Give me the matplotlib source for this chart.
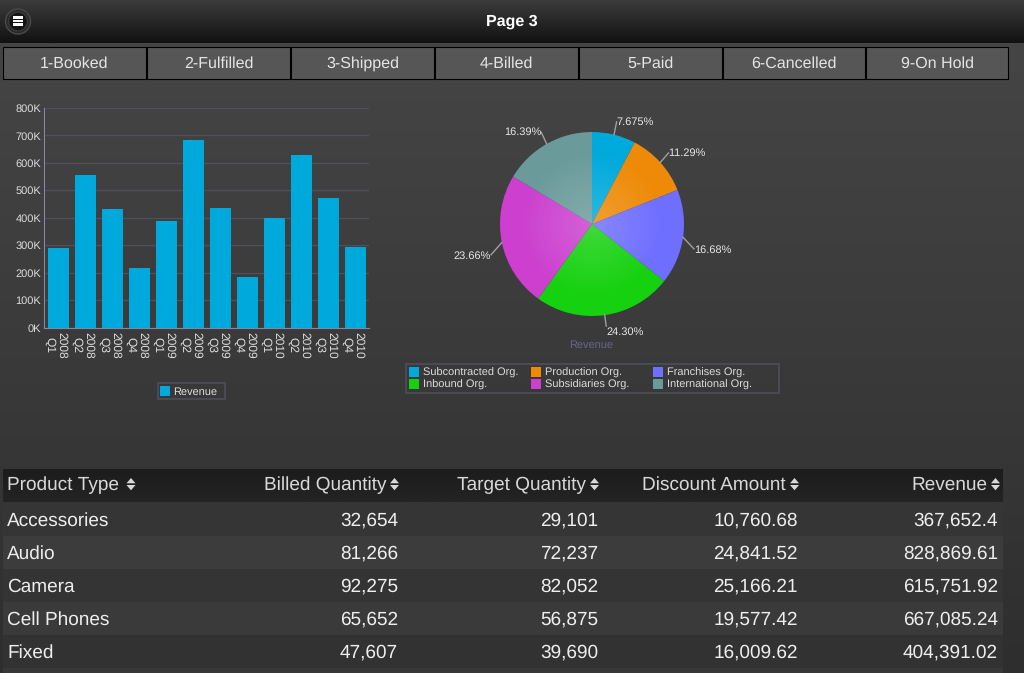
import numpy as np
import matplotlib
matplotlib.use('Agg')
import matplotlib.pyplot as plt
from matplotlib.colors import LinearSegmentedColormap
from matplotlib.patches import Rectangle, Circle, Polygon
from matplotlib.transforms import ScaledTranslation

plt.rcParams['font.family'] = ['Liberation Sans', 'DejaVu Sans']
plt.rcParams['text.hinting'] = 'no_hinting'
plt.rcParams['text.hinting_factor'] = 1

W, H = 1024, 673

# datos
tabs = ['1-Booked', '2-Fulfilled', '3-Shipped', '4-Billed', '5-Paid', '6-Cancelled', '9-On Hold']
quarters = ['2008\nQ1', '2008\nQ2', '2008\nQ3', '2008\nQ4',
            '2009\nQ1', '2009\nQ2', '2009\nQ3', '2009\nQ4',
            '2010\nQ1', '2010\nQ2', '2010\nQ3', '2010\nQ4']
revenue = [290, 555, 432, 217, 388, 683, 435, 184, 400, 628, 472, 293]
y_ticks = [0, 100, 200, 300, 400, 500, 600, 700, 800]

org_names = ['Subcontracted Org.', 'Production Org.', 'Franchises Org.',
             'Inbound Org.', 'Subsidiaries Org.', 'International Org.']
org_share = [7.675, 11.29, 16.68, 24.30, 23.66, 16.39]
org_labels = ['7.675%', '11.29%', '16.68%', '24.30%', '23.66%', '16.39%']
org_colors = ['#00a9dc', '#ee8a07', '#6e6eff', '#16d110', '#cc3fcf', '#6a9a9a']

headers = ['Product Type', 'Billed Quantity', 'Target Quantity', 'Discount Amount', 'Revenue']
products = ['Accessories', 'Audio', 'Camera', 'Cell Phones', 'Fixed']
billed_qty = ['32,654', '81,266', '92,275', '65,652', '47,607']
target_qty = ['29,101', '72,237', '82,052', '56,875', '39,690']
discount = ['10,760.68', '24,841.52', '25,166.21', '19,577.42', '16,009.62']
table_revenue = ['367,652.4', '828,869.61', '615,751.92', '667,085.24', '404,391.02']


def px_axes(x0, y0, x1, y1):
    # ejes a partir de pixeles de la imagen
    return fig.add_axes([x0 / W, 1 - y1 / H, (x1 - x0) / W, (y1 - y0) / H])


def legend_box(x0, y0, x1, y1):
    bg.add_patch(Rectangle((x0, y0), x1 - x0, y1 - y0, fc='none', ec='#4a4a55', lw=1.5, zorder=3))


def legend_item(x, y, color, name, gap=14):
    # x, y: esquina superior izquierda del cuadrito de 10 px
    bg.add_patch(Rectangle((x, y), 10, 10, fc=color, ec='none', zorder=3))
    bg.text(x + gap, y + 9.2, name, color='#dddddd', fontsize=7.8, ha='left', va='baseline', zorder=3)


fig = plt.figure(figsize=(W / 100, H / 100), dpi=100)

# --- Fondo y marcos ---
bg = fig.add_axes([0, 0, 1, 1])
bg.axis('off')

bg.imshow(np.linspace(0, 1, 256).reshape(-1, 1), extent=[0, W, H, 43],
          cmap=LinearSegmentedColormap.from_list('body', ['#454545', '#3a3a3a', '#2e2e2e']),
          aspect='auto', zorder=0)
bg.imshow(np.linspace(0, 1, 64).reshape(-1, 1), extent=[0, W, 43, 0],
          cmap=LinearSegmentedColormap.from_list('top', ['#3c3c3c', '#111111']),
          aspect='auto', zorder=0)

# boton de menu
bg.add_patch(Circle((18, 21.5), 12.5, fc='#2a2a2a', ec='#4a4a4a', lw=1, zorder=2))
bg.add_patch(Circle((18, 21.5), 9.5, fc='#151515', ec='#3a3a3a', lw=1, zorder=2))
for yy in (17.3, 21, 24.7):
    bg.add_patch(Rectangle((12.8, yy - 1.3), 10.6, 2.6, fc='white', ec='none', zorder=3))
bg.text(512, 21.5, 'Page 3', color='white', fontsize=11.5, fontweight='bold', ha='center', va='center')

# pestanas
tab_start = [3, 147, 291, 435, 579, 723, 866]
tab_end = [146, 290, 434, 578, 722, 865, 1008]
for name, x0, x1 in zip(tabs, tab_start, tab_end):
    bg.add_patch(Rectangle((x0, 46.5), x1 - x0, 32, fc='#565656', ec='black', lw=0.8, zorder=2))
    bg.text((x0 + x1) / 2, 67.5, name, color='#e4e4e4', fontsize=11.6, ha='center', va='baseline', zorder=3)

# --- Barras ---
ax = px_axes(44, 108, 369, 327.5)
ax.patch.set_alpha(0)
x = np.arange(len(revenue))
ax.bar(x, revenue, width=0.78, color='#00a9dc', zorder=3)
ax.set_xlim(-0.537, 11.5)
ax.set_ylim(0, 800)
ax.set_yticks(y_ticks)
ax.set_yticklabels([f'{v}K' for v in y_ticks])
ax.set_xticks(x)
ax.set_xticklabels(quarters, rotation=270, linespacing=1.1, ha='center', va='top', fontsize=8.3)
ax.tick_params(axis='both', length=0, labelcolor='#dddddd')
ax.tick_params(axis='y', labelsize=8, pad=2)
ax.tick_params(axis='x', pad=3)
# las etiquetas rotadas quedan corridas a la derecha
shift = ScaledTranslation(-3 / 100, 0, fig.dpi_scale_trans)
for lab in ax.get_xticklabels():
    lab.set_transform(lab.get_transform() + shift)
ax.grid(axis='y', color='#50505a', linewidth=1, zorder=1)
ax.set_axisbelow(True)
for side in ('top', 'right'):
    ax.spines[side].set_visible(False)
ax.spines['left'].set_color('#8585a5')
ax.spines['bottom'].set_color('#8585a5')

legend_box(157.5, 382.5, 224.5, 399)
legend_item(160, 386, '#00a9dc', 'Revenue', gap=13)

# --- Torta ---
cx, cy, R = 592, 224, 92
half = 160
pie_ax = px_axes(cx - half, cy - half, cx + half, cy + half)
pie_ax.patch.set_alpha(0)
wedges, _ = pie_ax.pie(org_share, colors=org_colors, startangle=90, counterclock=False, radius=1,
                       wedgeprops={'linewidth': 0})
# brillo radial hacia el centro
lim = half / R
yy, xx = np.mgrid[-1:1:300j, -1:1:300j]
rr = np.sqrt(xx ** 2 + yy ** 2)
glow = np.zeros(rr.shape + (4,))
glow[..., :3] = 1
glow[..., 3] = np.clip(0.18 * (1 - rr / 0.8), 0, 1)
img = pie_ax.imshow(glow, extent=[-1, 1, -1, 1], zorder=5)
img.set_clip_path(Circle((0, 0), 1, transform=pie_ax.transData))
pie_ax.set_xlim(-lim, lim)
pie_ax.set_ylim(-lim, lim)
pie_ax.set_aspect('equal')

# etiquetas con linea guia; desplazamiento vertical de cada una en pixeles
label_drop = [-2, -2, 10, 0, 10, -2]
text_drop = [0, 0, 1, 6, 1, 0]
cum = 0
for share, lab, drop, tdrop in zip(org_share, org_labels, label_drop, text_drop):
    mid = (cum + share / 2) / sum(org_share) * 2 * np.pi
    cum += share
    sx, sy = np.sin(mid), np.cos(mid)
    ex, ey = sx * 1.12, sy * 1.12 - drop / R
    pie_ax.plot([sx, ex], [sy, ey], color='#a0a0a0', lw=1, zorder=6)
    ha = 'left' if sx > 0 else 'right'
    pie_ax.text(ex, ey - tdrop / R, lab, color='#e6e6e6', fontsize=8, ha=ha, va='center', zorder=7)

bg.text(591, 345, 'Revenue', color='#66668f', fontsize=8, ha='center', va='center')

legend_box(405.5, 363.5, 779, 392.5)
leg_x = [409, 531, 653]
leg_y = [367, 379]
for k, (name, color) in enumerate(zip(org_names, org_colors)):
    legend_item(leg_x[k % 3], leg_y[k // 3], color, name)

# --- Tabla ---
bg.imshow(np.linspace(0, 1, 32).reshape(-1, 1), extent=[3, 1003, 502.5, 469.5],
          cmap=LinearSegmentedColormap.from_list('head', ['#1c1c1c', '#242424']),
          aspect='auto', zorder=1)

row_h = 33
row_y0 = 502.5
row_fill = ['#353535', '#3c3c3c', '#343434', '#3a3a3a', '#323232', '#383838']
for i, c in enumerate(row_fill):
    bg.add_patch(Rectangle((3, row_y0 + i * row_h), 1000, row_h, fc=c, ec='none', zorder=1))

header_x = [7, 386, 586, 786, 987]
arrow_x = [131, 394.5, 594.5, 794.5, 995.5]
for j, name in enumerate(headers):
    bg.text(header_x[j], 490, name, color='#d8d8d8', fontsize=14, ha='left' if j == 0 else 'right',
            va='baseline', zorder=3)
    ax0 = arrow_x[j]
    bg.add_patch(Polygon([(ax0 - 4.5, 483.3), (ax0 + 4.5, 483.3), (ax0, 478)], fc='#d8d8d8', ec='none', zorder=3))
    bg.add_patch(Polygon([(ax0 - 4.5, 485), (ax0 + 4.5, 485), (ax0, 490.3)], fc='#d8d8d8', ec='none', zorder=3))

columns = [billed_qty, target_qty, discount, table_revenue]
col_x = [398, 598, 798, 998]
for i, name in enumerate(products):
    ty = row_y0 + row_h * i + 23
    bg.text(7, ty, name, color='#eeeeee', fontsize=14, ha='left', va='baseline', zorder=3)
    for vals, xr in zip(columns, col_x):
        bg.text(xr, ty, vals[i], color='#eeeeee', fontsize=14, ha='right', va='baseline', zorder=3)

bg.set_xlim(0, W)
bg.set_ylim(H, 0)

fig.savefig('out.png', dpi=100)
